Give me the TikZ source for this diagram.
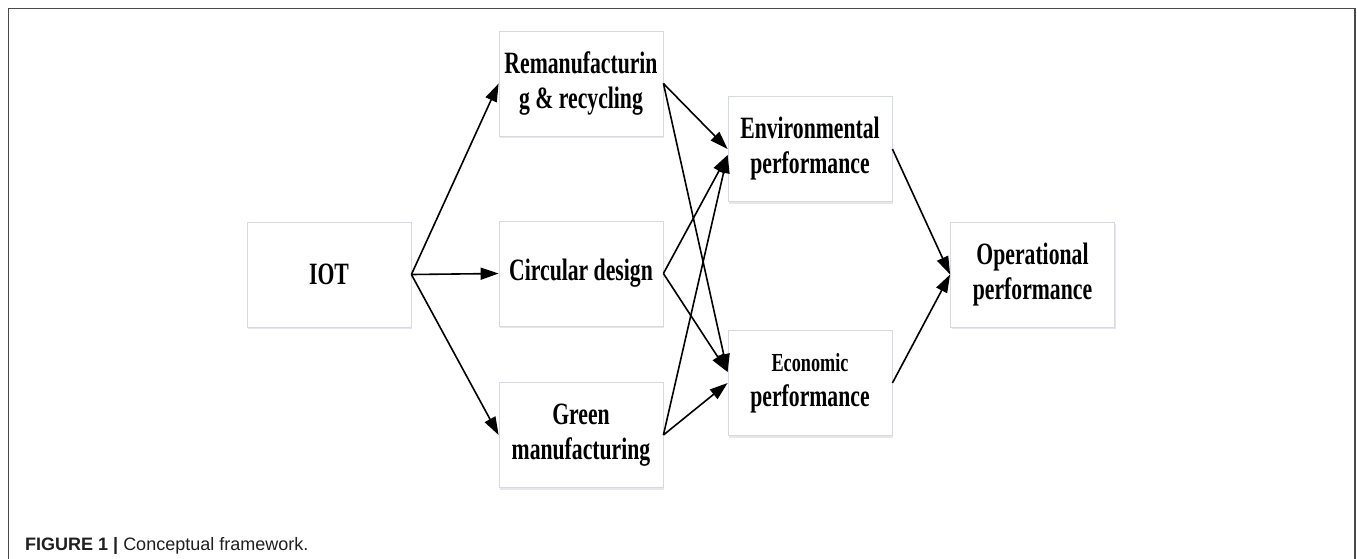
\documentclass[tikz,border=0pt]{standalone}
\usepackage{fontspec}
\setmainfont{Liberation Serif}
\newfontfamily\boxfont{Liberation Serif}[FakeStretch=0.70]
\newfontfamily\capfont{Liberation Sans}
\usetikzlibrary{arrows.meta,calc,shadows}
\definecolor{boxline}{HTML}{D6D9DE}
\definecolor{frameline}{HTML}{4A4A4A}
\tikzset{
  block/.style={draw=boxline, line width=0.8pt, fill=white,
    minimum width=164pt, minimum height=105pt, inner sep=0pt,
    align=center, font=\boxfont\bfseries\fontsize{31}{35}\selectfont,
    drop shadow={opacity=0.15, shadow xshift=1.2pt, shadow yshift=-2.2pt, fill=blue!30!gray}},
  link/.style={line width=1.6pt, -{Triangle[length=18pt,width=12pt]}}
}
\begin{document}
\begin{tikzpicture}[x=1pt,y=-1pt]
  \useasboundingbox (0,0) rectangle (1357,558);
  \fill[white] (0,0) rectangle (1357,558);
  % outer frame of the figure
  \draw[frameline, line width=1.6pt] (8.5,570) -- (8.5,8.5) -- (1355,8.5) -- (1355,570);

  % nodes
  \node[block] (iot)  at (329,274.5)  {IOT};
  \node[block] (rem)  at (581,83.5)   {Remanufacturin\\g \& recycling};
  \node[block] (circ) at (581,273.5)  {Circular design};
  \node[block] (green) at (581,435)   {Green\\manufacturing};
  \node[block] (env)  at (810,149)    {Environmental\\performance};
  \node[block] (eco) at (810,383)
    {{\fontsize{26}{35}\selectfont Economic}\\performance};
  \node[block] (op)   at (1032.5,274.5) {Operational\\performance};

  % entry points on the mediator boxes
  \coordinate (envin)  at ($(env.west)+(0,6)$);
  \coordinate (ecoin)  at ($(eco.west)+(0,-11)$);

  % connectors
  \draw[link] (iot.east) -- (rem.west);
  \draw[link] (iot.east) -- (circ.west);
  \draw[link] (iot.east) -- (green.west);

  \draw[link] (rem.east) -- (env.west);
  \draw[link] (rem.east) -- (ecoin);
  \draw[link] (circ.east) -- (envin);
  \draw[link] (circ.east) -- (ecoin);
  \draw[link] (green.east) -- (envin);
  \draw[link] (green.east) -- (eco.west);

  \draw[link] (env.east) -- (op.west);
  \draw[link] (eco.east) -- (op.west);

  % caption
  \node[anchor=base west, inner sep=0pt, text=black!88,
        font=\capfont\fontsize{18}{22}\selectfont] (cap) at (25,550)
    {\textbf{FIGURE 1 |} Conceptual framework.};
\end{tikzpicture}
\end{document}
